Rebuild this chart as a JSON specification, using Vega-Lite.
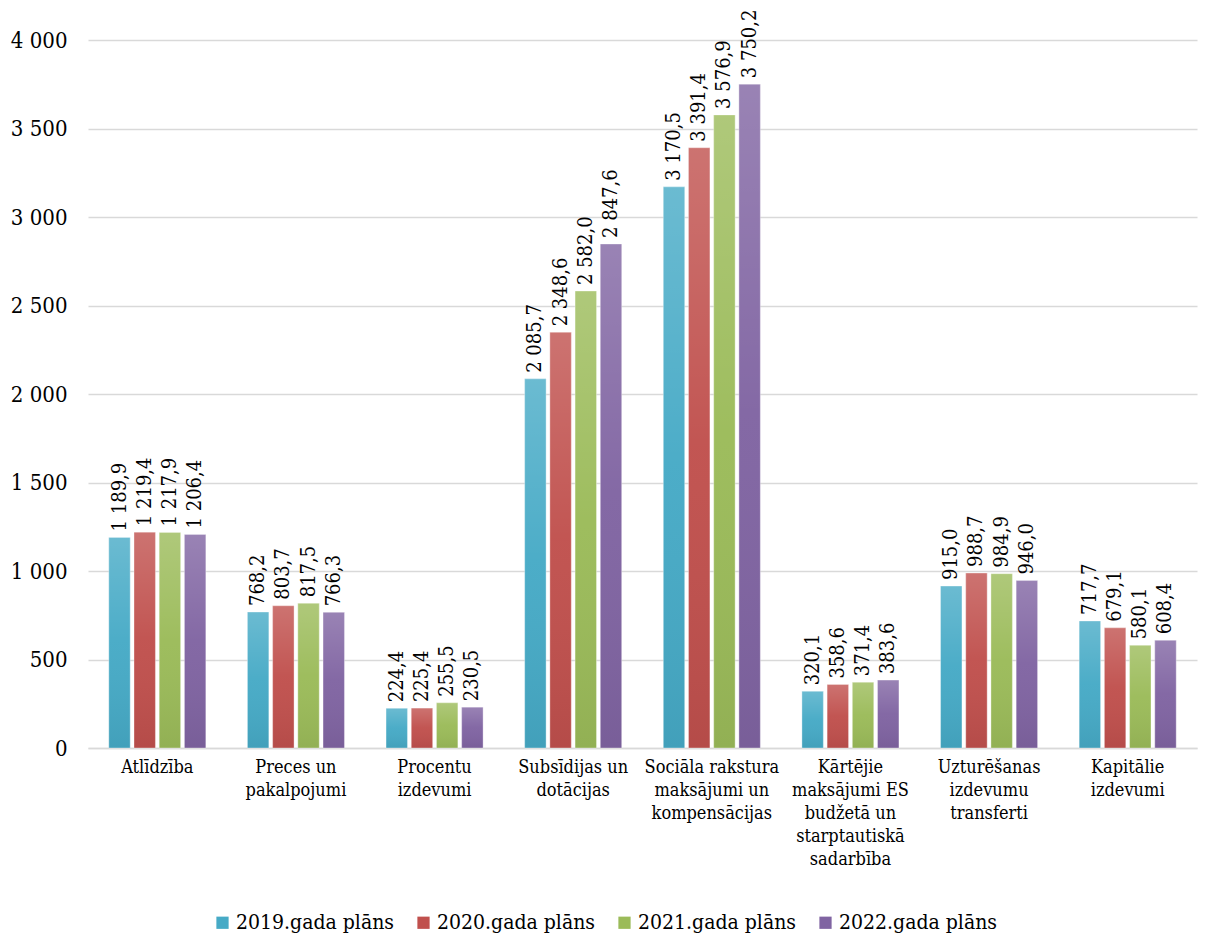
{
  "$schema": "https://vega.github.io/schema/vega-lite/v6.json",
  "width": 1109,
  "height": 708,
  "autosize": {"type": "none"},
  "padding": {"left": 88, "top": 40, "right": 10, "bottom": 204},
  "background": "white",
  "config": {
    "locale": {"number": {"decimal": ",", "thousands": "\u00a0", "grouping": [3], "currency": ["", ""]}},
    "view": {"stroke": null}
  },
  "data": {
    "values": [
      {"cat": "Atlīdzība", "series": "2019.gada plāns", "value": 1189.9},
      {"cat": "Atlīdzība", "series": "2020.gada plāns", "value": 1219.4},
      {"cat": "Atlīdzība", "series": "2021.gada plāns", "value": 1217.9},
      {"cat": "Atlīdzība", "series": "2022.gada plāns", "value": 1206.4},
      {"cat": "Preces un|pakalpojumi", "series": "2019.gada plāns", "value": 768.2},
      {"cat": "Preces un|pakalpojumi", "series": "2020.gada plāns", "value": 803.7},
      {"cat": "Preces un|pakalpojumi", "series": "2021.gada plāns", "value": 817.5},
      {"cat": "Preces un|pakalpojumi", "series": "2022.gada plāns", "value": 766.3},
      {"cat": "Procentu|izdevumi", "series": "2019.gada plāns", "value": 224.4},
      {"cat": "Procentu|izdevumi", "series": "2020.gada plāns", "value": 225.4},
      {"cat": "Procentu|izdevumi", "series": "2021.gada plāns", "value": 255.5},
      {"cat": "Procentu|izdevumi", "series": "2022.gada plāns", "value": 230.5},
      {"cat": "Subsīdijas un|dotācijas", "series": "2019.gada plāns", "value": 2085.7},
      {"cat": "Subsīdijas un|dotācijas", "series": "2020.gada plāns", "value": 2348.6},
      {"cat": "Subsīdijas un|dotācijas", "series": "2021.gada plāns", "value": 2582.0},
      {"cat": "Subsīdijas un|dotācijas", "series": "2022.gada plāns", "value": 2847.6},
      {"cat": "Sociāla rakstura|maksājumi un|kompensācijas", "series": "2019.gada plāns", "value": 3170.5},
      {"cat": "Sociāla rakstura|maksājumi un|kompensācijas", "series": "2020.gada plāns", "value": 3391.4},
      {"cat": "Sociāla rakstura|maksājumi un|kompensācijas", "series": "2021.gada plāns", "value": 3576.9},
      {"cat": "Sociāla rakstura|maksājumi un|kompensācijas", "series": "2022.gada plāns", "value": 3750.2},
      {"cat": "Kārtējie|maksājumi ES|budžetā un|starptautiskā|sadarbība", "series": "2019.gada plāns", "value": 320.1},
      {"cat": "Kārtējie|maksājumi ES|budžetā un|starptautiskā|sadarbība", "series": "2020.gada plāns", "value": 358.6},
      {"cat": "Kārtējie|maksājumi ES|budžetā un|starptautiskā|sadarbība", "series": "2021.gada plāns", "value": 371.4},
      {"cat": "Kārtējie|maksājumi ES|budžetā un|starptautiskā|sadarbība", "series": "2022.gada plāns", "value": 383.6},
      {"cat": "Uzturēšanas|izdevumu|transferti", "series": "2019.gada plāns", "value": 915.0},
      {"cat": "Uzturēšanas|izdevumu|transferti", "series": "2020.gada plāns", "value": 988.7},
      {"cat": "Uzturēšanas|izdevumu|transferti", "series": "2021.gada plāns", "value": 984.9},
      {"cat": "Uzturēšanas|izdevumu|transferti", "series": "2022.gada plāns", "value": 946.0},
      {"cat": "Kapitālie|izdevumi", "series": "2019.gada plāns", "value": 717.7},
      {"cat": "Kapitālie|izdevumi", "series": "2020.gada plāns", "value": 679.1},
      {"cat": "Kapitālie|izdevumi", "series": "2021.gada plāns", "value": 580.1},
      {"cat": "Kapitālie|izdevumi", "series": "2022.gada plāns", "value": 608.4}
    ]
  },
  "encoding": {
    "x": {
      "field": "cat", "type": "nominal", "sort": null,
      "scale": {"paddingInner": 0.3, "paddingOuter": 0.15},
      "axis": {
        "title": null, "labelAngle": 0, "labelExpr": "split(datum.label, '|')",
        "labelFont": "DejaVu Serif Condensed", "labelFontSize": 18, "labelLineHeight": 23,
        "labelColor": "#000000", "labelPadding": 10, "labelBaseline": "top", "labelLimit": 0,
        "ticks": false, "domainColor": "#d9d9d9", "domainWidth": 1.5
      }
    },
    "xOffset": {
      "field": "series", "type": "nominal",
      "scale": {"paddingInner": 0.15, "paddingOuter": 0}
    },
    "y": {
      "field": "value", "type": "quantitative",
      "scale": {"domain": [0, 4000]},
      "axis": {
        "title": null, "values": [0, 500, 1000, 1500, 2000, 2500, 3000, 3500, 4000],
        "format": ",d", "labelFont": "DejaVu Serif Condensed", "labelFontSize": 22,
        "labelColor": "#000000", "labelPadding": 21, "ticks": false, "domain": false,
        "gridColor": "#d9d9d9", "gridWidth": 1.5
      }
    }
  },
  "layer": [
    {
      "mark": {"type": "bar"},
      "encoding": {
        "color": {
          "field": "series", "type": "nominal",
          "scale": {
            "domain": ["2019.gada plāns", "2020.gada plāns", "2021.gada plāns", "2022.gada plāns"],
            "range": ["#46aac6", "#c0504d", "#9bbb59", "#8064a2"]
          },
          "legend": {
            "title": null, "orient": "none", "legendX": 124, "legendY": 872,
            "direction": "horizontal",
            "symbolType": "square", "symbolSize": 150, "symbolStrokeWidth": 0,
            "labelFont": "DejaVu Serif Condensed", "labelFontSize": 21, "labelColor": "#000000",
            "columnPadding": 18, "labelOffset": 3, "labelLimit": 0
          }
        }
      }
    },
    {
      "mark": {
        "type": "bar",
        "fill": {
          "gradient": "linear", "x1": 0, "y1": 0, "x2": 0, "y2": 1,
          "stops": [
            {"offset": 0, "color": "rgba(255,255,255,0.2)"},
            {"offset": 0.5, "color": "rgba(255,255,255,0.03)"},
            {"offset": 1, "color": "rgba(0,0,0,0.06)"}
          ]
        },
        "stroke": "rgba(255,255,255,0.35)",
        "strokeWidth": 1
      }
    },
    {
      "mark": {
        "type": "text", "angle": 270, "align": "left", "baseline": "middle",
        "dx": 6, "font": "DejaVu Serif Condensed", "fontSize": 20, "color": "#000000"
      },
      "encoding": {
        "text": {"field": "value", "type": "quantitative", "format": ",.1f"}
      }
    }
  ]
}
